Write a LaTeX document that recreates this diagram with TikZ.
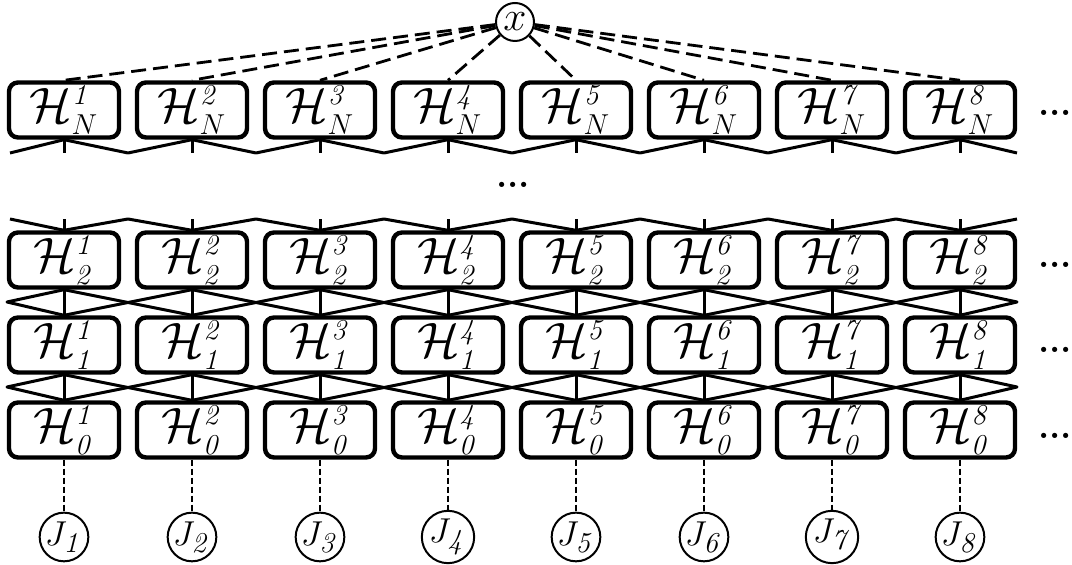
\documentclass[tikz,border=0pt]{standalone}
\usetikzlibrary{positioning}
\begin{document}
\begin{tikzpicture}[x=0.5pt, y=-0.5pt,
	hbox/.style = {draw, line width=2.2pt, rounded corners=4.5pt, minimum width=55pt, minimum height=27.5pt, inner sep=0pt, font=\fontsize{28}{32}\selectfont},
	var/.style = {draw, circle, line width=1pt, inner sep=0pt, minimum size=19pt, font=\fontsize{22}{26}\selectfont},
	jnode/.style = {draw, circle, line width=1pt, inner sep=0pt, minimum size=19.5pt, font=\fontsize{19}{22}\selectfont},
	link/.style = {line width=1.5pt, line join=round},
	xline/.style = {line width=1.4pt, dash pattern=on 7.5pt off 3.5pt},
	jline/.style = {line width=1pt, dash pattern=on 3pt off 1.5pt},
	more/.style = {inner sep=0pt, font=\fontsize{18}{20}\bfseries}]
	\useasboundingbox (0,0) rectangle (1072,565);

	\node[var] (x) at (515,22) {$x$};

	% the four layers and the inputs
	\foreach \i in {1,...,8} {
		\node[hbox] (hN-\i) at ({128*\i-64},110) {$\mathcal{H}^{\scriptscriptstyle\mathit{\i}}_{\scriptscriptstyle N}$};
		\node[hbox] (h2-\i) at ({128*\i-64},260) {$\mathcal{H}^{\scriptscriptstyle\mathit{\i}}_{\scriptscriptstyle\mathit{2}}$};
		\node[hbox] (h1-\i) at ({128*\i-64},345) {$\mathcal{H}^{\scriptscriptstyle\mathit{\i}}_{\scriptscriptstyle\mathit{1}}$};
		\node[hbox] (h0-\i) at ({128*\i-64},430) {$\mathcal{H}^{\scriptscriptstyle\mathit{\i}}_{\scriptscriptstyle\mathit{0}}$};
		\node[jnode] (J\i) at ({128*\i-64},537) {$J_{\mathit{\i}}$};
	}
	\node[more] (dN) at (1055,113) {...};
	\node[more] (d2) at (1055,265) {...};
	\node[more] (d1) at (1055,350) {...};
	\node[more] (d0) at (1055,436) {...};
	\node[more] (dmid) at (513,185) {...};

	% x to top layer
	\foreach \i in {1,...,8}
		\draw[xline] (x) -- (hN-\i.north);

	% open ends below layer N and above layer 2
	\foreach \k in {0,...,8} {
		\coordinate (mN-\k) at ({max(10,min(1017,128*\k))},153);
		\coordinate (m2-\k) at ({max(10,min(1017,128*\k))},219);
	}
	\foreach \i [evaluate=\i as \k using int(\i-1)] in {1,...,8} {
		\draw[link] (mN-\k) -- (hN-\i.south) -- (mN-\i);
		\draw[link] (hN-\i.south) -- (hN-\i.south |- mN-\i);
		\draw[link] (m2-\k) -- (h2-\i.north) -- (m2-\i);
		\draw[link] (h2-\i.north) -- (h2-\i.north |- m2-\i);
	}

	% crossings between layers
	\coordinate (l21) at (7,302);
	\coordinate (r21) at (1017,302);
	\coordinate (l10) at (7,387);
	\coordinate (r10) at (1017,387);
	\foreach \i in {1,...,8} {
		\draw[link] (h2-\i.south) -- (h1-\i.north);
		\draw[link] (h1-\i.south) -- (h0-\i.north);
		\draw[jline] (h0-\i.south) -- (J\i);
	}
	\foreach \i [evaluate=\i as \j using int(\i+1)] in {1,...,7} {
		\draw[link] (h2-\i.south) -- (h1-\j.north);
		\draw[link] (h2-\j.south) -- (h1-\i.north);
		\draw[link] (h1-\i.south) -- (h0-\j.north);
		\draw[link] (h1-\j.south) -- (h0-\i.north);
	}
	\draw[link] (h2-1.south) -- (l21) -- (h1-1.north);
	\draw[link] (h2-8.south) -- (r21) -- (h1-8.north);
	\draw[link] (h1-1.south) -- (l10) -- (h0-1.north);
	\draw[link] (h1-8.south) -- (r10) -- (h0-8.north);
\end{tikzpicture}
\end{document}
